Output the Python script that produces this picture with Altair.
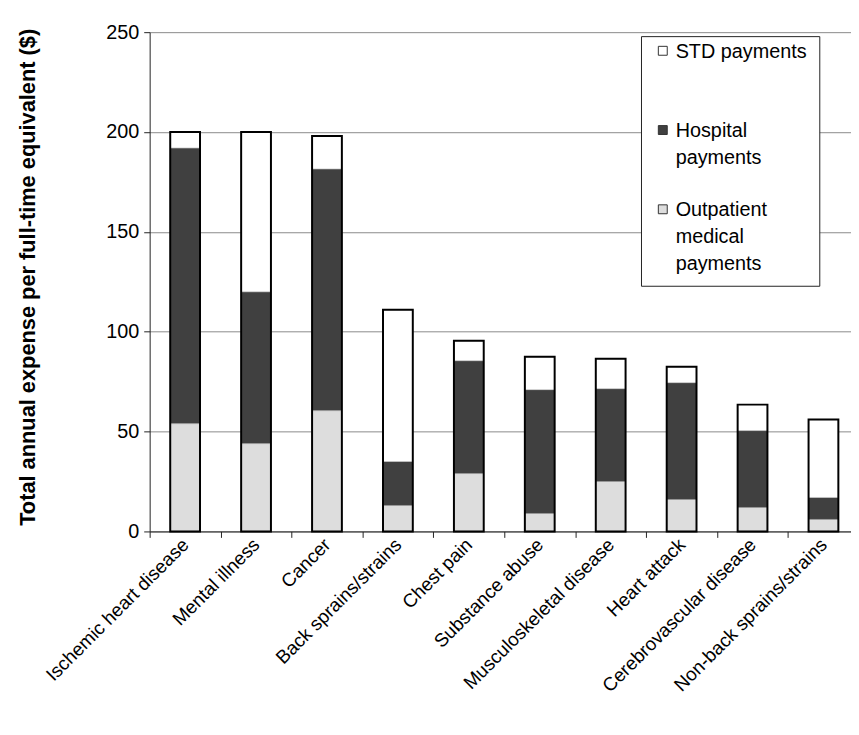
import altair as alt
import pandas as pd

categories = [
    "Ischemic heart disease", "Mental illness", "Cancer", "Back sprains/strains",
    "Chest pain", "Substance abuse", "Musculoskeletal disease", "Heart attack",
    "Cerebrovascular disease", "Non-back sprains/strains",
]
outpatient = [54, 44, 60.5, 13, 29, 9, 25, 16, 12, 6]
hospital = [138, 76, 121, 22, 56.5, 62, 46.5, 58.5, 38.5, 11]
std = [8, 80, 16.5, 76, 10, 16.5, 15, 8, 13, 39]

series_names = ["STD payments", "Hospital payments", "Outpatient medical payments"]
series_colors = ["#FFFFFF", "#404040", "#DDDDDD"]
y_ticks = [0, 50, 100, 150, 200, 250]

rows = []
for i, c in enumerate(categories):
    for k, (name, vals) in enumerate([("Outpatient medical payments", outpatient),
                                      ("Hospital payments", hospital),
                                      ("STD payments", std)]):
        rows.append({"category": c, "series": name, "value": vals[i], "order": k})
df = pd.DataFrame(rows)
totals = pd.DataFrame({"category": categories,
                       "total": [o + h + s for o, h, s in zip(outpatient, hospital, std)]})

FONT = "Liberation Sans"

x_enc = alt.X(
    "category:N", sort=categories,
    scale=alt.Scale(domain=categories, range=[0, 716], paddingInner=0.58, paddingOuter=0.29),
    axis=alt.Axis(title=None, labelAngle=315, labelAlign="right", labelBaseline="middle",
                  labelFont=FONT, labelFontSize=19, labelColor="black", labelLimit=400,
                  labelPadding=4, tickSize=6, tickOffset=-35.8, labelOffset=35.8,
                  tickColor="#222", domainColor="#222", grid=False),
)
y_axis = alt.Axis(values=y_ticks, grid=True, gridColor="#8a8a8a", gridWidth=1,
                  domainColor="#222", tickColor="#222", tickSize=6,
                  labelFont=FONT, labelFontSize=20, labelColor="black", labelPadding=5,
                  title="Total annual expense per full-time equivalent ($)",
                  titleFont=FONT, titleFontSize=22, titleFontWeight="bold", titleColor="black",
                  titleX=-123, titleY=247, titleAngle=270, titleAlign="center",
                  titleBaseline="middle")
y_scale = alt.Scale(domain=[0, 250], nice=False)

label_expr = ("datum.label == 'Hospital payments' ? ['Hospital', 'payments'] : "
              "datum.label == 'Outpatient medical payments' ? ['Outpatient', 'medical', 'payments'] : "
              "datum.label")

# square symbol shifted up so it sits beside the first line of a baseline-anchored label
legend_symbol = "M-1,-2.6L1,-2.6L1,-0.6L-1,-0.6Z"

bars = alt.Chart(df).mark_bar(stroke="#aaaaaa", strokeWidth=0.5).encode(
    x=x_enc,
    y=alt.Y("value:Q", stack="zero", scale=y_scale, axis=y_axis),
    color=alt.Color("series:N", scale=alt.Scale(domain=series_names, range=series_colors),
                    legend=alt.Legend(title=None, orient="none", legendX=496, legendY=4,
                                      fillColor="white", strokeColor="#222", padding=12,
                                      labelFont=FONT, labelFontSize=20, labelColor="black",
                                      symbolType=legend_symbol, symbolSize=81,
                                      symbolStrokeColor="#333", symbolStrokeWidth=1,
                                      symbolOpacity=1, labelOffset=3, gridAlign="all",
                                      rowPadding=6, labelBaseline="alphabetic",
                                      labelExpr=label_expr)),
    order=alt.Order("order:Q"),
)

outline = alt.Chart(totals).mark_bar(fillOpacity=0, stroke="black", strokeWidth=2).encode(
    x=x_enc,
    y=alt.Y("total:Q", scale=y_scale, axis=y_axis),
)

chart = alt.layer(bars, outline).properties(
    width=708, height=504,
    padding={"left": 143, "top": 21, "right": 0, "bottom": 191},
    autosize="none",
).configure(style={"guide-label": {"lineHeight": 27}}).configure_view(strokeOpacity=0)

chart.save("out.html", embed_options={"renderer": "svg", "actions": False})
